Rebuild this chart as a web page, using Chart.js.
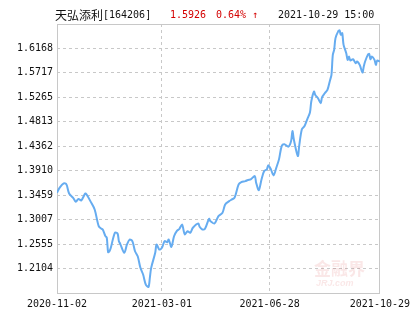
<!DOCTYPE html>
<html>
<head>
<meta charset="utf-8">
<script src="https://cdn.jsdelivr.net/npm/chart.js@4/dist/chart.umd.min.js"></script>
<style>
  html, body { margin: 0; padding: 0; background: #fff; }
  canvas { display: block; }
</style>
</head>
<body>
<canvas id="nav-chart" width="415" height="330"></canvas>
<script>
// trading day index (0 = 2020-11-02, 240 = 2021-10-29) and unit NAV
const navDays = [
    0, 2, 5, 7, 9, 12, 14, 16, 18, 21, 22, 25, 28, 31, 33, 34, 36, 37, 38, 39,
    40, 43, 45, 46, 47, 50, 52, 54, 56, 58, 60, 62, 64, 66, 68, 69, 70, 73, 74, 76,
    78, 80, 82, 83, 85, 87, 89, 91, 93, 94, 95, 97, 99, 101, 105, 106, 108, 110, 113, 114,
    117, 120, 123, 125, 128, 130, 132, 135, 137, 140, 142, 144, 147, 148, 150, 152, 154, 156, 157, 159,
    161, 163, 165, 167, 169, 172, 174, 175, 176, 179, 180, 182, 184, 186, 188, 189, 191, 192, 194, 196,
    197, 199, 201, 203, 204, 205, 206, 207, 209, 210, 211, 212, 213, 215, 216, 217, 218, 220, 222, 223,
    225, 227, 228, 229, 231, 232, 233, 234, 236, 237, 238, 240
]
const navValues = [
    1.3504, 1.3597, 1.3676, 1.3658, 1.3490, 1.3410, 1.3337, 1.3390, 1.3360, 1.3490, 1.3470, 1.3340, 1.3195, 1.2886, 1.2838, 1.2825, 1.2702, 1.2672, 1.2405, 1.2424,
    1.2487, 1.2764, 1.2751, 1.2609, 1.2560, 1.2394, 1.2548, 1.2640, 1.2610, 1.2424, 1.2330, 1.2117, 1.1993, 1.1808, 1.1765, 1.1932, 1.2117, 1.2394, 1.2548, 1.2455,
    1.2487, 1.2610, 1.2590, 1.2640, 1.2505, 1.2700, 1.2794, 1.2838, 1.2918, 1.2820, 1.2733, 1.2794, 1.2764, 1.2857, 1.2936, 1.2875, 1.2825, 1.2838, 1.3023, 1.2979,
    1.2936, 1.3071, 1.3134, 1.3288, 1.3349, 1.3380, 1.3412, 1.3658, 1.3700, 1.3719, 1.3740, 1.3750, 1.3811, 1.3689, 1.3552, 1.3750, 1.3904, 1.3935, 1.4010, 1.3935,
    1.3824, 1.3966, 1.4120, 1.4366, 1.4398, 1.4355, 1.4460, 1.4644, 1.4490, 1.4181, 1.4366, 1.4675, 1.4736, 1.4860, 1.4984, 1.5188, 1.5373, 1.5310, 1.5249, 1.5156,
    1.5267, 1.5341, 1.5402, 1.5587, 1.5680, 1.6050, 1.6142, 1.6359, 1.6483, 1.6501, 1.6420, 1.6451, 1.6235, 1.6080, 1.5957, 1.6020, 1.5946, 1.5970, 1.5896, 1.5927,
    1.5865, 1.5724, 1.5835, 1.5927, 1.6050, 1.6068, 1.5970, 1.6020, 1.5957, 1.5865, 1.5946, 1.5926
]

const yTicks = [1.2104, 1.2555, 1.3007, 1.3459, 1.3910, 1.4362, 1.4813, 1.5265, 1.5717, 1.6168]
const yMin = 1.16524
const yMax = 1.66196

const xTickDays = [0, 78, 158, 240]
const xTickLabels = ['2020-11-02', '2021-03-01', '2021-06-28', '2021-10-29']

const fundName = '天弘添利'
const fundCode = '[164206]'
const lastNav = '1.5926'
const lastChange = '0.64% ↑'
const lastTime = '2021-10-29 15:00'

const monoFont = '"DejaVu Sans Mono", monospace'
const cjkFont = '"Noto Sans CJK SC", sans-serif'

// title row + frame + watermark
const decorPlugin = {
    id: 'decor',
    beforeDatasetsDraw(chart) {
        const ctx = chart.ctx
        const a = chart.chartArea
        ctx.save()
        // faint watermark
        ctx.fillStyle = 'rgba(210, 60, 60, 0.12)'
        ctx.font = 'bold 17px ' + cjkFont
        ctx.textBaseline = 'middle'
        ctx.fillText('金融界', a.right - 66, a.bottom - 24)
        ctx.font = 'italic bold 9px "Liberation Sans", sans-serif'
        ctx.fillText('JRJ.com', a.right - 64, a.bottom - 9)
        // frame
        ctx.strokeStyle = '#c8c8c8'
        ctx.lineWidth = 1
        ctx.setLineDash([])
        ctx.strokeRect(Math.round(a.left) + 0.5, Math.round(a.top) + 0.5,
            Math.round(a.right - a.left) - 1, Math.round(a.bottom - a.top))
        ctx.restore()
    },
    afterDraw(chart) {
        const ctx = chart.ctx
        ctx.save()
        ctx.textBaseline = 'middle'
        const y = 15
        ctx.fillStyle = '#111'
        ctx.font = '12px ' + cjkFont
        ctx.fillText(fundName, 55, y)
        let x = 55 + ctx.measureText(fundName).width
        ctx.font = '10px ' + monoFont
        ctx.fillText(fundCode, x, y)
        ctx.fillStyle = '#d40000'
        ctx.fillText(lastNav, 170, y)
        ctx.fillText(lastChange, 216, y)
        ctx.fillStyle = '#111'
        ctx.fillText(lastTime, 278, y)
        ctx.restore()
    }
}

const points = navDays.map((d, i) => ({ x: d, y: navValues[i] }))

const config = {
    type: 'line',
    data: {
        datasets: [{
            data: points,
            borderColor: 'rgb(102, 172, 240)',
            borderWidth: 2,
            pointRadius: 0,
            tension: 0.3,
            fill: false
        }]
    },
    options: {
        responsive: false,
        animation: false,
        devicePixelRatio: 1,
        layout: {
            padding: { top: 24, right: 23, bottom: 0, left: 0 }
        },
        plugins: {
            legend: { display: false },
            tooltip: { enabled: false },
            title: { display: false }
        },
        scales: {
            x: {
                type: 'linear',
                min: 0,
                max: 240,
                afterBuildTicks: s => { s.ticks = xTickDays.map(v => ({ value: v })) },
                afterFit: s => { s.height = 37 },
                ticks: {
                    autoSkip: false,
                    maxRotation: 0,
                    padding: 5,
                    color: '#111',
                    font: { family: monoFont, size: 10 },
                    callback: v => xTickLabels[xTickDays.indexOf(v)]
                },
                grid: { color: '#c8c8c8', drawTicks: false },
                border: { display: false, dash: [3, 3] }
            },
            y: {
                min: yMin,
                max: yMax,
                afterBuildTicks: s => { s.ticks = yTicks.map(v => ({ value: v })) },
                afterFit: s => { s.width = 57 },
                ticks: {
                    padding: 4,
                    color: '#111',
                    font: { family: monoFont, size: 10 },
                    callback: v => v.toFixed(4)
                },
                grid: { color: '#c8c8c8', drawTicks: false },
                border: { display: false, dash: [3, 3] }
            }
        }
    },
    plugins: [decorPlugin]
}

const navChart = new Chart(document.getElementById('nav-chart'), config)
</script>
</body>
</html>
